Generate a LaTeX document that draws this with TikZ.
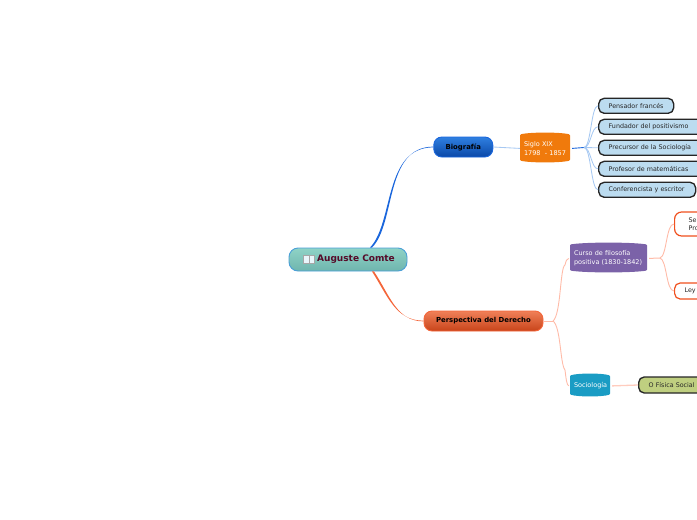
\documentclass[tikz,border=0pt]{standalone}
\usepackage{fontspec}
\setmainfont{DejaVu Sans}
\definecolor{leafblue}{HTML}{BCDCF0}
\definecolor{branchblue}{HTML}{A6C8F2}
\definecolor{linkblue}{HTML}{1A66DC}
\definecolor{linkorange}{HTML}{F4663A}
\definecolor{branchpink}{HTML}{FFBBA8}
\definecolor{sorange}{HTML}{F07A0C}
\definecolor{spurple}{HTML}{7B62A8}
\definecolor{scyan}{HTML}{1A9CC4}
\definecolor{maroon}{HTML}{560A28}
\definecolor{roottop}{HTML}{8FD3C6}
\definecolor{rootbot}{HTML}{6FB5AE}
\definecolor{rootline}{HTML}{4A9FD8}
\definecolor{biotop}{HTML}{2F7FE0}
\definecolor{biobot}{HTML}{0A48A8}
\definecolor{pertop}{HTML}{F08058}
\definecolor{perbot}{HTML}{C8441A}
\definecolor{khaki}{HTML}{BFCF80}
\definecolor{redline}{HTML}{F0501E}
\tikzset{
  mainbox/.style={rounded corners=#1, inner sep=0pt, line width=.9pt, align=center},
  leafbox/.style={draw=black!85, line width=1.35pt, rounded corners=5.5pt, fill=leafblue,
    anchor=west, minimum height=15pt, inner sep=0pt, align=left, font=\fontsize{6.35}{7.5}\selectfont, text=black!85},
  redbox/.style={leafbox, draw=#1, fill=white, line width=1.2pt, text=black!85},
  branchb/.style={draw=branchblue, line width=.85pt},
  branchp/.style={draw=branchpink, line width=.9pt},
  barreltext/.style={inner sep=0pt, text=white, align=left, font=\fontsize{6.5}{9}\selectfont}
}
\newcommand{\barrelbox}[7]{%
  \fill[#6, rounded corners=1pt] ({#2},{#3+2.5}) .. controls ({#2+(#4-#2)*.2},{#3}) and ({#4-(#4-#2)*.2},{#3}) .. ({#4},{#3+2.5})
    -- ({#4},{#5-2.5}) .. controls ({#4-(#4-#2)*.2},{#5}) and ({#2+(#4-#2)*.2},{#5}) .. ({#2},{#5-2.5}) -- cycle;
  \node[barreltext, minimum height={(#5-#3)*1pt}, text width={(#4-#2-8)*1pt}, inner xsep=4pt] (#1) at ({(#2+#4)/2},{(#3+#5)/2+.9}) {#7};%
}
\begin{document}
\begin{tikzpicture}[x=1pt,y=-1pt]
\useasboundingbox (0,0) rectangle (697,520);
\clip (0,0) rectangle (697,520);
% main nodes
\node[mainbox=9pt, draw=rootline, top color=roottop, bottom color=rootbot,
  minimum width=118pt, minimum height=23pt, font=\bfseries\fontsize{9}{10}\selectfont, text=maroon] (root) at (348,259.5) {\raisebox{-1.2pt}{\hspace*{16pt}Auguste Comte}};
\fill[gray!25!cyan!10] (303.5,255) rectangle (308.5,263.5);
\fill[gray!25!cyan!10] (309,255) rectangle (314,263.5);
\draw[gray!70, line width=.3pt] (303.5,255) rectangle (314,263.5) (308.7,255) -- (308.7,263.5);
\node[mainbox=8pt, draw=linkblue, top color=biotop, bottom color=biobot,
  minimum width=59pt, minimum height=20pt, font=\bfseries\fontsize{6.9}{8}\selectfont, text=black] (bio) at (463.3,147) {\raisebox{-.8pt}{Biografía}};
\node[mainbox=8pt, draw=linkorange, top color=pertop, bottom color=perbot,
  minimum width=119pt, minimum height=20pt, font=\bfseries\fontsize{6.9}{8}\selectfont, text=black] (per) at (483.5,321) {\raisebox{-1.2pt}{Perspectiva del Derecho}};
% barrels
\barrelbox{siglo}{520}{132}{570}{163}{sorange}{Siglo XIX\\1798\ \ - 1857}
\barrelbox{curso}{570}{242}{647}{273}{spurple}{Curso de filosofía\\positiva (1830-1842)}
\barrelbox{soc}{570}{373}{610}{397}{scyan}{Sociología}
% leaves
\node[leafbox, minimum width=75pt, text width=75pt] (l1) at (598,105.8) {\hspace*{10pt}Pensador francés};
\node[leafbox, minimum width=104pt, text width=104pt] (l2) at (598,126.8) {\hspace*{10pt}Fundador del positivismo};
\node[leafbox, minimum width=104pt, text width=104pt] (l3) at (598,147.8) {\hspace*{10pt}Precursor de la Sociología};
\node[leafbox, minimum width=104pt, text width=104pt] (l4) at (598,168.8) {\hspace*{10pt}Profesor de matemáticas};
\node[leafbox, minimum width=97pt, text width=97pt] (l5) at (598,189.8) {\hspace*{10pt}Conferencista y escritor};
\node[redbox=redline, minimum width=40pt, text width=40pt, minimum height=24pt, rounded corners=7pt] (se) at (674,224) {\hspace*{14pt}Se\\\hspace*{14pt}Pro};
\node[redbox=redline, minimum width=40pt, text width=40pt, minimum height=16pt] (ley) at (674,291) {\hspace*{10pt}Ley};
\node[leafbox, fill=khaki, minimum width=70pt, text width=70pt, minimum height=16pt] (fis) at (638,385) {\hspace*{10pt}O Física Social};
% connectors
\coordinate (rootN) at ([xshift=23pt]root.north);
\coordinate (rootS) at ([xshift=25pt]root.south);
\fill[linkblue] ([xshift=-1pt]rootN) .. controls +(24,-25) and +(-50,0) .. ([yshift=-.35pt]bio.west)
  -- ([yshift=.35pt]bio.west) .. controls +(-49,0) and +(24,-24) .. ([xshift=1pt]rootN) -- cycle;
\fill[linkorange] ([xshift=-1pt]rootS) .. controls +(16,25) and +(-28,0) .. ([yshift=.35pt]per.west)
  -- ([yshift=-.35pt]per.west) .. controls +(-27,0) and +(16,24) .. ([xshift=1pt]rootS) -- cycle;
\draw[branchb] (bio.east) -- (siglo.west);
\coordinate (jb) at (584,147.5);
\draw[linkblue, line width=.9pt] ([xshift=2pt]siglo.east) -- (jb);
\foreach \t in {l1,l2,l3,l4,l5}{\draw[branchb] (jb) .. controls +(7,0) and +(-7,0) .. (\t.west);}
\coordinate (jp) at (553,321);
\draw[branchp] (per.east) -- (jp);
\draw[branchp] (jp) .. controls +(8,-6) and +(-5,2) .. (565,265) .. controls +(1,-4) and +(-2,0) .. ([xshift=-1pt]curso.west);
\draw[branchp] (jp) .. controls +(8,6) and +(-5,-6) .. (565,370) .. controls +(1,8) and +(-2,0) .. ([xshift=-1pt]soc.west);
\coordinate (jc) at (660,258);
\draw[branchp, line width=1pt] ([xshift=2pt]curso.east) -- (jc);
\draw[branchp] (jc) .. controls +(7,-2) and +(-8,0) .. (se.west);
\draw[branchp] (jc) .. controls +(7,2) and +(-8,0) .. (ley.west);
\draw[line width=1.3pt, draw=branchpink!75] ([xshift=2pt]soc.east) -- (fis.west);
\end{tikzpicture}
\end{document}
